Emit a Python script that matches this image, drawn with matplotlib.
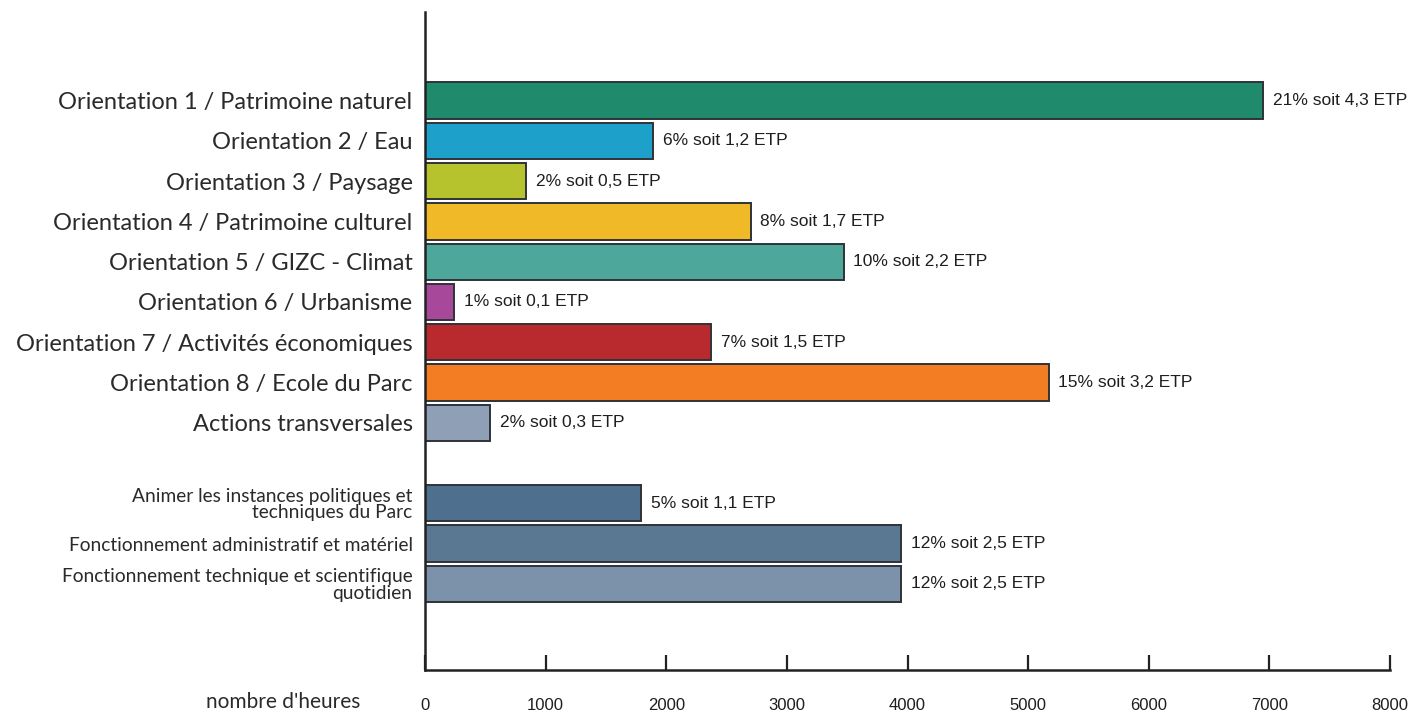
import matplotlib
matplotlib.use("Agg")
import matplotlib.pyplot as plt

# Heures consacrées par orientation de la charte
categories = [
    "Orientation 1 / Patrimoine naturel",
    "Orientation 2 / Eau",
    "Orientation 3 / Paysage",
    "Orientation 4 / Patrimoine culturel",
    "Orientation 5 / GIZC - Climat",
    "Orientation 6 / Urbanisme",
    "Orientation 7 / Activités économiques",
    "Orientation 8 / Ecole du Parc",
    "Actions transversales",
    "Animer les instances politiques et\ntechniques du Parc",
    "Fonctionnement administratif et matériel",
    "Fonctionnement technique et scientifique\nquotidien",
]
hours = [6950, 1890, 840, 2700, 3470, 240, 2370, 5170, 540, 1790, 3950, 3950]
value_labels = [
    "21% soit 4,3 ETP", "6% soit 1,2 ETP", "2% soit 0,5 ETP", "8% soit 1,7 ETP",
    "10% soit 2,2 ETP", "1% soit 0,1 ETP", "7% soit 1,5 ETP", "15% soit 3,2 ETP",
    "2% soit 0,3 ETP", "5% soit 1,1 ETP", "12% soit 2,5 ETP", "12% soit 2,5 ETP",
]
colors = [
    "#1f8b6c", "#1da0c9", "#b6c32d", "#f0b928", "#4da89b", "#a8489b",
    "#b82a2e", "#f27d22", "#8e9fb6", "#4f6f8e", "#5b7893", "#7c92aa",
]
x_ticks = [0, 1000, 2000, 3000, 4000, 5000, 6000, 7000, 8000]

# positions: orientations, une ligne vide, puis le fonctionnement
positions = list(range(9)) + [10, 11, 12]

label_font = ["Lato", "DejaVu Sans"]
narrow_font = ["Liberation Sans Narrow", "Liberation Sans", "DejaVu Sans"]

fig = plt.figure(figsize=(14.2, 7.18), dpi=100)
ax = fig.add_axes([0.2993, 0.0669, 0.6796, 0.9164])

ax.barh(positions, hours, height=0.9, color=colors,
        edgecolor="#2f3338", linewidth=1.4)

for pos, h, lab in zip(positions, hours, value_labels):
    ax.text(h + 80, pos, lab, va="center", ha="left",
            fontsize=12.5, family=narrow_font, color="#1e1e1e")

ax.set_xlim(0, 8000)
ax.set_ylim(14.14, -2.2)

ax.set_yticks(positions)
ax.set_yticklabels(categories)
for i, t in enumerate(ax.get_yticklabels()):
    t.set_family(label_font)
    t.set_color("#2a2a2a")
    if i < 9:
        t.set_fontsize(17)
    else:
        t.set_fontsize(13.8)
        t.set_linespacing(0.95)
ax.tick_params(axis="y", length=0, pad=9)

ax.set_xticks(x_ticks)
ax.set_xticklabels([str(v) for v in x_ticks])
for t in ax.get_xticklabels():
    t.set_family(narrow_font)
    t.set_fontsize(12)
    t.set_color("#1e1e1e")
ax.tick_params(axis="x", direction="in", length=11, width=1.6,
               color="#222222", pad=20)

for side in ("top", "right"):
    ax.spines[side].set_visible(False)
for side in ("left", "bottom"):
    ax.spines[side].set_linewidth(1.8)
    ax.spines[side].set_color("#222222")

fig.text(0.254, 0.008, "nombre d'heures", ha="right", va="bottom",
         fontsize=15, family=label_font, color="#2a2a2a")

fig.savefig("out.png", dpi=100, facecolor="white")
